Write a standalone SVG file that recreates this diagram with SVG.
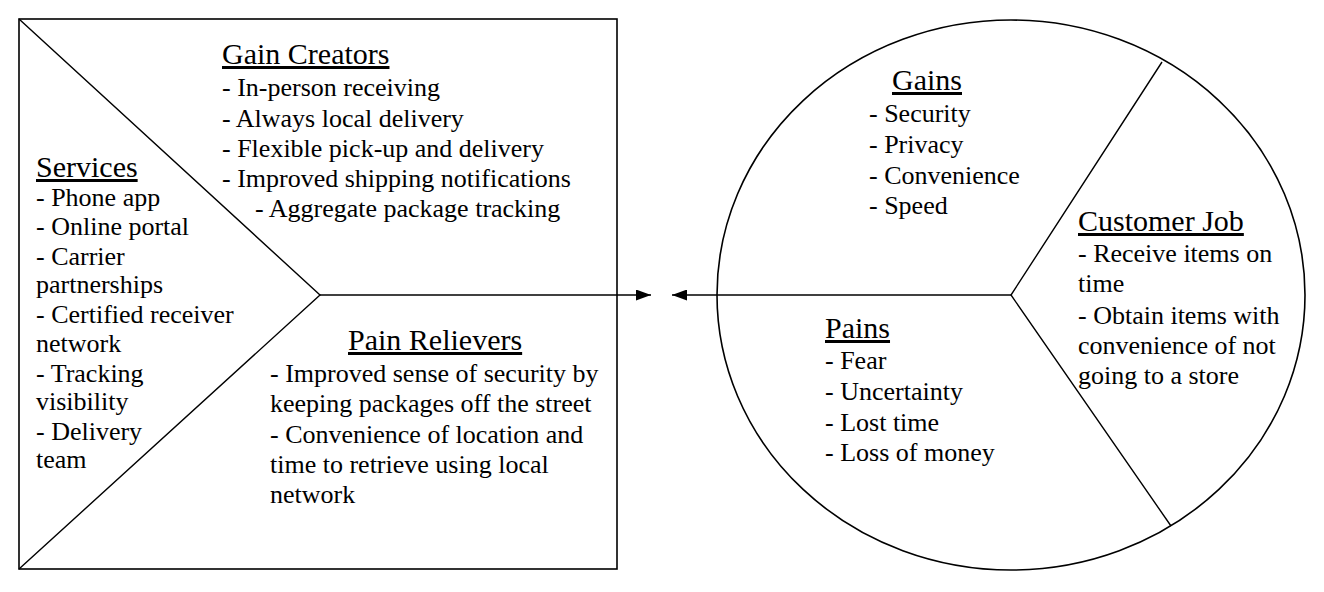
<svg xmlns="http://www.w3.org/2000/svg" width="1324" height="592" viewBox="0 0 1324 592">
<style>
.shape{fill:none;stroke:#000;stroke-width:1.6}
.div{fill:none;stroke:#000;stroke-width:1.4}
.conn{fill:none;stroke:#000;stroke-width:1.6}
</style>
<defs>
<marker id="arr" viewBox="0 0 10 10" refX="10" refY="5" markerWidth="15" markerHeight="11" markerUnits="userSpaceOnUse" orient="auto" preserveAspectRatio="none">
<path d="M0,0 L10,5 L0,10 z" fill="#000"/>
</marker>
</defs>
<rect width="1324" height="592" fill="#fff"/>
<g id="value-map">
<rect class="shape" x="19" y="19" width="598" height="550"/>
<polyline class="div" points="19,19 320,295 19,569"/>
</g>
<g id="gain-creators">
<text font-family="Liberation Serif" font-size="30" text-decoration="underline" x="222" y="64">Gain Creators</text>
<text font-family="Liberation Serif" font-size="26" x="222" y="96">- In-person receiving</text>
<text font-family="Liberation Serif" font-size="26" x="222" y="127">- Always local delivery</text>
<text font-family="Liberation Serif" font-size="26" x="222" y="157">- Flexible pick-up and delivery</text>
<text font-family="Liberation Serif" font-size="26" x="222" y="187">- Improved shipping notifications</text>
<text font-family="Liberation Serif" font-size="26" x="255" y="217">- Aggregate package tracking</text>
</g>
<g id="services">
<text font-family="Liberation Serif" font-size="30" text-decoration="underline" x="36" y="177">Services</text>
<text font-family="Liberation Serif" font-size="26" x="36" y="206">- Phone app</text>
<text font-family="Liberation Serif" font-size="26" x="36" y="235">- Online portal</text>
<text font-family="Liberation Serif" font-size="26" x="36" y="265">- Carrier</text>
<text font-family="Liberation Serif" font-size="26" x="36" y="293">partnerships</text>
<text font-family="Liberation Serif" font-size="26" x="36" y="323">- Certified receiver</text>
<text font-family="Liberation Serif" font-size="26" x="36" y="352">network</text>
<text font-family="Liberation Serif" font-size="26" x="36" y="382">- Tracking</text>
<text font-family="Liberation Serif" font-size="26" x="36" y="410">visibility</text>
<text font-family="Liberation Serif" font-size="26" x="36" y="440">- Delivery</text>
<text font-family="Liberation Serif" font-size="26" x="36" y="468">team</text>
</g>
<g id="pain-relievers">
<text font-family="Liberation Serif" font-size="30" text-decoration="underline" x="348" y="350">Pain Relievers</text>
<text font-family="Liberation Serif" font-size="26" x="270" y="382">- Improved sense of security by</text>
<text font-family="Liberation Serif" font-size="26" x="270" y="412">keeping packages off the street</text>
<text font-family="Liberation Serif" font-size="26" x="270" y="443">- Convenience of location and</text>
<text font-family="Liberation Serif" font-size="26" x="270" y="473">time to retrieve using local</text>
<text font-family="Liberation Serif" font-size="26" x="270" y="503">network</text>
</g>
<g id="customer-profile">
<ellipse class="shape" cx="1011" cy="295" rx="294" ry="275"/>
<polyline class="div" points="1162,62 1011,295 1171,526"/>
</g>
<g id="gains">
<text font-family="Liberation Serif" font-size="30" text-decoration="underline" x="892" y="90">Gains</text>
<text font-family="Liberation Serif" font-size="26" x="869" y="122">- Security</text>
<text font-family="Liberation Serif" font-size="26" x="869" y="153">- Privacy</text>
<text font-family="Liberation Serif" font-size="26" x="869" y="184">- Convenience</text>
<text font-family="Liberation Serif" font-size="26" x="869" y="214">- Speed</text>
</g>
<g id="customer-job">
<text font-family="Liberation Serif" font-size="30" text-decoration="underline" x="1078" y="231">Customer Job</text>
<text font-family="Liberation Serif" font-size="26" x="1078" y="262">- Receive items on</text>
<text font-family="Liberation Serif" font-size="26" x="1078" y="292">time</text>
<text font-family="Liberation Serif" font-size="26" x="1078" y="324">- Obtain items with</text>
<text font-family="Liberation Serif" font-size="26" x="1078" y="354">convenience of not</text>
<text font-family="Liberation Serif" font-size="26" x="1078" y="384">going to a store</text>
</g>
<g id="pains">
<text font-family="Liberation Serif" font-size="30" text-decoration="underline" x="825" y="338">Pains</text>
<text font-family="Liberation Serif" font-size="26" x="825" y="369">- Fear</text>
<text font-family="Liberation Serif" font-size="26" x="825" y="400">- Uncertainty</text>
<text font-family="Liberation Serif" font-size="26" x="825" y="431">- Lost time</text>
<text font-family="Liberation Serif" font-size="26" x="825" y="461">- Loss of money</text>
</g>
<g id="connectors">
<line class="conn" x1="320" y1="295" x2="651" y2="295" marker-end="url(#arr)"/>
<line class="conn" x1="1011" y1="295" x2="672" y2="295" marker-end="url(#arr)"/>
</g>
</svg>
